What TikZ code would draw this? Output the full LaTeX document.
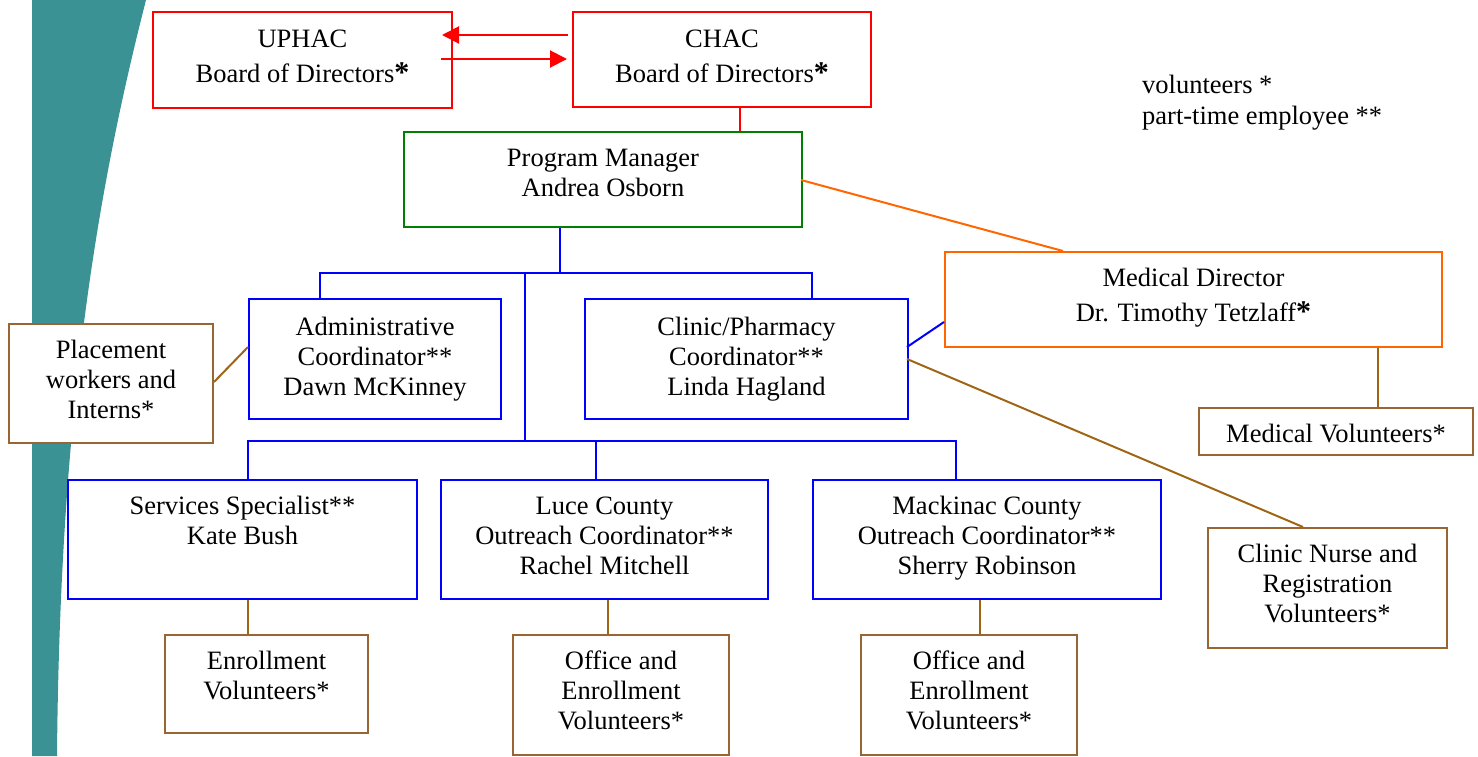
\documentclass[tikz,border=0pt]{standalone}
\usepackage{fontspec}
\setmainfont{Liberation Serif}
\usetikzlibrary{arrows.meta,calc}
\definecolor{tealband}{RGB}{58,146,148}
\definecolor{cred}{RGB}{255,0,0}
\definecolor{cgreen}{RGB}{0,128,0}
\definecolor{cblue}{RGB}{0,0,255}
\definecolor{corange}{RGB}{255,102,0}
\definecolor{cbrown}{RGB}{153,102,51}
\definecolor{cbrownline}{RGB}{158,102,20}
\tikzset{
  box/.style={draw, fill=white, line width=2pt, inner sep=0pt, anchor=north west},
  txt/.style={font=\fontsize{26.5}{30}\selectfont, align=center, inner sep=0pt, anchor=base},
  conn/.style={line width=2pt},
  redarrow/.style={conn, cred, -{Triangle[length=17pt,width=17pt]}}
}
\newcommand{\bast}{{\fontsize{30}{30}\selectfont\textbf{*}}}
\begin{document}
\begin{tikzpicture}[x=1pt,y=-1pt]
\useasboundingbox (0,0) rectangle (1478,756);
% teal band
\fill[tealband] (32,0) -- (146,0) .. controls (100,180) and (60,400) .. (57,756) -- (32,756) -- cycle;

% boxes
\node[box, draw=cred, minimum width=299pt, minimum height=96pt] (uphac) at (152,11) {};
\node[box, draw=cred, minimum width=298pt, minimum height=95pt] (chac) at (572,11) {};
\node[box, draw=cgreen, minimum width=398pt, minimum height=95pt] (pm) at (403,131) {};
\node[box, draw=cblue, minimum width=252pt, minimum height=120pt] (admin) at (248,298) {};
\node[box, draw=cblue, minimum width=323pt, minimum height=120pt] (clinic) at (584,298) {};
\node[box, draw=cbrown, minimum width=204pt, minimum height=119pt] (place) at (8,323) {};
\node[box, draw=corange, minimum width=497pt, minimum height=95pt] (md) at (944,251) {};
\node[box, draw=cbrown, minimum width=274pt, minimum height=47pt] (medvol) at (1198,407) {};
\node[box, draw=cbrown, minimum width=239pt, minimum height=120pt] (nurse) at (1207,527) {};
\node[box, draw=cblue, minimum width=349pt, minimum height=119pt] (serv) at (67,479) {};
\node[box, draw=cblue, minimum width=327pt, minimum height=119pt] (luce) at (440,479) {};
\node[box, draw=cblue, minimum width=348pt, minimum height=119pt] (mack) at (812,479) {};
\node[box, draw=cbrown, minimum width=203pt, minimum height=98pt] (enr) at (164,634) {};
\node[box, draw=cbrown, minimum width=216pt, minimum height=120pt] (off1) at (512,634) {};
\node[box, draw=cbrown, minimum width=216pt, minimum height=120pt] (off2) at (860,634) {};

% texts (base anchor = baseline of last line)
\node[txt] (tuphac) at ($(uphac.north)+(0,71)$) {UPHAC\\[5pt]Board of Directors\bast};
\node[txt] (tchac) at ($(chac.north)+(0,71)$) {CHAC\\[5pt]Board of Directors\bast};
\node[txt] (tpm) at ($(pm.north)+(0,65)$) {Program Manager\\Andrea Osborn};
\node[txt] (tadmin) at ($(admin.north)+(0,97)$) {Administrative\\Coordinator**\\Dawn McKinney};
\node[txt] (tclinic) at ($(clinic.north)+(0,97)$) {Clinic/Pharmacy\\Coordinator**\\Linda Hagland};
\node[txt] (tplace) at ($(place.north)+(0,95)$) {Placement\\workers and\\Interns*};
\node[txt] (tmd) at ($(md.north)+(0,70)$) {Medical Director\\[5pt]Dr. Timothy Tetzlaff\bast};
\node[txt] (tmedvol) at ($(medvol.north)+(0,35)$) {Medical Volunteers*};
\node[txt] (tnurse) at ($(nurse.north)+(0,95)$) {Clinic Nurse and\\Registration\\Volunteers*};
\node[txt] (tserv) at ($(serv.north)+(0,65)$) {Services Specialist**\\Kate Bush};
\node[txt] (tluce) at ($(luce.north)+(0,95)$) {Luce County\\Outreach Coordinator**\\Rachel Mitchell};
\node[txt] (tmack) at ($(mack.north)+(0,95)$) {Mackinac County\\Outreach Coordinator**\\Sherry Robinson};
\node[txt] (tenr) at ($(enr.north)+(0,65)$) {Enrollment\\Volunteers*};
\node[txt] (toff1) at ($(off1.north)+(0,95)$) {Office and\\Enrollment\\Volunteers*};
\node[txt] (toff2) at ($(off2.north)+(0,95)$) {Office and\\Enrollment\\Volunteers*};
\node[txt, align=left, anchor=base west] (legend) at (1142,124) {volunteers *\\[1pt]part-time employee **};

% red connectors
\draw[redarrow] ($(chac.north west)+(-4,24)$) coordinate (a1s) -- ($(uphac.north east)+(-11,24)$) coordinate (a1e);
\draw[redarrow] ($(uphac.north east)+(-12,48)$) coordinate (a2s) -- ($(chac.north west)+(-5,48)$) coordinate (a2e);
\draw[conn, cred] (740,0 |- chac.south) -- (740,0 |- pm.north);

% blue tree
\coordinate (bus1) at (560,273);
\coordinate (bus2) at (525,441);
\draw[conn, cblue] (560,0 |- pm.south) -- (bus1);
\draw[conn, cblue] (320,0 |- admin.north) -- (320,273) -- (812,273) -- (812,0 |- clinic.north);
\draw[conn, cblue] (525,273) -- (bus2);
\draw[conn, cblue] (248,0 |- serv.north) -- (248,441) -- (956,441) -- (956,0 |- mack.north);
\draw[conn, cblue] (596,441) -- (596,0 |- luce.north);
\draw[conn, cblue] (907,347) coordinate (cl1) -- (944,322) coordinate (md1);

% orange
\draw[conn, corange] (801,180) coordinate (pm1) -- (1063,0 |- md.north);

% brown connectors
\draw[conn, cbrownline] (place.east |- 0,382) -- (admin.west |- 0,347);
\draw[conn, cbrownline] (907,359) coordinate (cl2) -- (1303,0 |- nurse.north);
\draw[conn, cbrownline] (1378,0 |- md.south) -- (1378,0 |- medvol.north);
\draw[conn, cbrownline] (248,0 |- serv.south) -- (248,0 |- enr.north);
\draw[conn, cbrownline] (608,0 |- luce.south) -- (608,0 |- off1.north);
\draw[conn, cbrownline] (980,0 |- mack.south) -- (980,0 |- off2.north);
\end{tikzpicture}
\end{document}
